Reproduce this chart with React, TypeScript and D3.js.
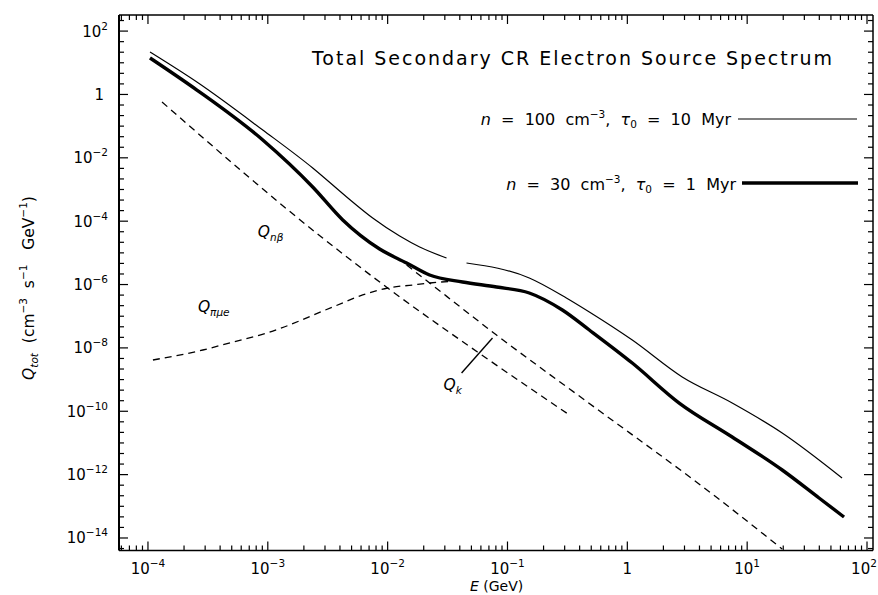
import React from "react";
import * as d3 from "d3";

const W = 878;
const H = 595;

const xDomain: [number, number] = [Math.pow(10, -4.2417), Math.pow(10, 2.05)];
const yDomain: [number, number] = [Math.pow(10, -14.395), Math.pow(10, 2.508)];

// n = 100 cm^-3, tau0 = 10 Myr (thin)
const thinE = [1.04e-4, 2.56e-4, 9.08e-4, 2.37e-3, 4.55e-3, 7.5e-3, 1.26e-2, 1.85e-2, 3.1e-2, 3.8e-2, 4.55e-2, 0.152, 0.31, 0.482, 1.1, 2.87, 7.5, 19.6, 61.9];
const thinQ = [21.9, 2.47, 7.55e-2, 4.77e-3, 5.8e-4, 1.26e-4, 3.4e-5, 1.53e-5, 6.89e-6, NaN, 4.79e-6, 1.61e-6, 3.76e-7, 1.36e-7, 1.77e-8, 1.21e-9, 1.82e-10, 2.06e-11, 7.82e-13];

// n = 30 cm^-3, tau0 = 1 Myr (thick)
const thickE = [1.04e-4, 2.56e-4, 9.08e-4, 2.37e-3, 4.22e-3, 8.57e-3, 1.44e-2, 2.24e-2, 4.22e-2, 8.1e-2, 0.152, 0.287, 0.482, 1.1, 2.71, 7.5, 19.6, 39.8, 64.3];
const thickQ = [14.2, 1.38, 3.65e-2, 1.2e-3, 1.09e-4, 1.32e-5, 4.79e-6, 2.0e-6, 1.2e-6, 8.36e-7, 5.41e-7, 1.57e-7, 3.67e-8, 3.33e-9, 1.82e-10, 1.54e-11, 1.4e-12, 1.83e-13, 4.59e-14];

// Q_n-beta component
const qnbE = [1.31e-4, 2.87e-3, 1.0e-2, 5.62e-2, 0.329];
const qnbQ = [0.578, 2.94e-5, 7.78e-7, 7.41e-9, 7.62e-11];

// Q_pi-mu-e component
const qpiE = [1.1e-4, 2.87e-4, 5.11e-4, 9.82e-4, 3.48e-3, 6.19e-3, 1.0e-2, 1.61e-2, 2.24e-2, 3.76e-2];
const qpiQ = [4.15e-9, 8.59e-9, 1.53e-8, 2.95e-8, 1.95e-7, 4.68e-7, 7.78e-7, 9.66e-7, 1.12e-6, 1.29e-6];

// Q_k component
const qkE = [1.44e-2, 2.24e-2, 8.1e-2, 0.464, 5.52, 19.6];
const qkQ = [4.14e-6, 1.12e-6, 2.55e-8, 1.96e-10, 1.96e-13, 4.49e-15];

// Q_k leader line
const leaderE = [4.14e-2, 7.5e-2];
const leaderQ = [1.61e-9, 2.05e-8];

// tick labels
const xTickExps = [-4, -3, -2, -1, 0, 1, 2];
const yTickExps = [2, 0, -2, -4, -6, -8, -10, -12, -14];

const FONT = "'DejaVu Sans', 'Liberation Sans', Arial, sans-serif";

function sup(e: number) {
  return e < 0 ? "\u2212" + Math.abs(e) : String(e);
}

export default function App() {
  const x = d3.scaleLog().domain(xDomain).range([119, 873]);
  const y = d3.scaleLog().domain(yDomain).range([550.5, 15]);
  const [x0, x1] = x.range();
  const [y0, y1] = y.range();

  const line = d3
    .line<[number, number]>()
    .defined((d) => !isNaN(d[1]))
    .x((d) => x(d[0]))
    .y((d) => y(d[1]))
    .curve(d3.curveMonotoneX);
  const straight = d3
    .line<[number, number]>()
    .x((d) => x(d[0]))
    .y((d) => y(d[1]));

  const zip = (a: number[], b: number[]) => a.map((v, i) => [v, b[i]] as [number, number]);

  // x ticks
  const xTicks: { v: number; major: boolean }[] = [];
  for (let d = -5; d <= 2; d++) {
    for (let m = 1; m <= 9; m++) {
      const v = m * Math.pow(10, d);
      if (v >= xDomain[0] && v <= xDomain[1]) xTicks.push({ v, major: m === 1 });
    }
  }
  // y ticks every third of a decade
  const yTicks: { v: number; major: boolean }[] = [];
  for (let k = -45; k <= 9; k++) {
    const v = Math.pow(10, k / 3);
    if (v >= yDomain[0] && v <= yDomain[1]) yTicks.push({ v, major: k % 6 === 0 });
  }

  const LM = 9;
  const Lm = 5;
  const pre = { whiteSpace: "pre" as const };

  return (
    <svg
      width={W}
      height={H}
      style={{ position: "fixed", left: 0, top: 0, background: "#fff" }}
      fontFamily={FONT}
    >
      <rect x={0} y={0} width={W} height={H} fill="#fff" />
      <defs>
        <clipPath id="plot">
          <rect x={x0} y={y1} width={x1 - x0} height={y0 - y1} />
        </clipPath>
      </defs>

      {/* frame */}
      <line x1={x0} x2={x0} y1={y1} y2={y0} stroke="#000" strokeWidth={2} />
      <line x1={x0} x2={x1} y1={y0} y2={y0} stroke="#000" strokeWidth={1.6} />
      <line x1={x0} x2={x1} y1={y1} y2={y1} stroke="#000" strokeWidth={1.5} />
      <line x1={x1} x2={x1} y1={y1} y2={y0} stroke="#000" strokeWidth={1.5} />

      {/* x ticks */}
      {xTicks.map((t, i) => (
        <g key={"xt" + i} stroke="#000" strokeWidth={1.2}>
          <line x1={x(t.v)} x2={x(t.v)} y1={y0} y2={y0 - (t.major ? LM : Lm)} />
          <line x1={x(t.v)} x2={x(t.v)} y1={y1} y2={y1 + (t.major ? LM : Lm)} />
        </g>
      ))}
      {/* y ticks */}
      {yTicks.map((t, i) => (
        <g key={"yt" + i} stroke="#000" strokeWidth={1.2}>
          <line x1={x0} x2={x0 + (t.major ? LM : Lm)} y1={y(t.v)} y2={y(t.v)} />
          <line x1={x1} x2={x1 - (t.major ? LM : Lm)} y1={y(t.v)} y2={y(t.v)} />
        </g>
      ))}

      {/* x tick labels */}
      {xTickExps.map((e) => (
        <text key={"xl" + e} x={x(Math.pow(10, e)) - (e === 2 ? 3 : 0)} y={574} textAnchor="middle" fontSize={15} fill="#000">
          {e === 0 ? (
            "1"
          ) : (
            <>
              10
              <tspan dy={-7} fontSize={10.5}>
                {sup(e)}
              </tspan>
            </>
          )}
        </text>
      ))}
      {/* y tick labels */}
      {yTickExps.map((e) => (
        <text key={"yl" + e} x={e === 0 ? 104 : 108} y={y(Math.pow(10, e)) + 5.5} textAnchor="end" fontSize={15} fill="#000">
          {e === 0 ? (
            "1"
          ) : (
            <>
              10
              <tspan dy={-7} fontSize={10.5}>
                {sup(e)}
              </tspan>
            </>
          )}
        </text>
      ))}

      {/* axis titles */}
      <text x={470} y={591} fontSize={14} fill="#000" style={pre}>
        <tspan fontStyle="italic">E</tspan>
        {" (GeV)"}
      </text>
      <text transform="translate(34,288) rotate(-90)" textAnchor="middle" fontSize={15.5} fill="#000" style={pre}>
        <tspan fontStyle="italic">Q</tspan>
        <tspan dy={4} fontSize={10.5} fontStyle="italic">tot</tspan>
        <tspan dy={-4}>{"  (cm"}</tspan>
        <tspan dy={-7} fontSize={10.5}>{"\u22123"}</tspan>
        <tspan dy={7}>{"  s"}</tspan>
        <tspan dy={-7} fontSize={10.5}>{"\u22121"}</tspan>
        <tspan dy={7}>{"   GeV"}</tspan>
        <tspan dy={-7} fontSize={10.5}>{"\u22121"}</tspan>
        <tspan dy={7}>{")"}</tspan>
      </text>

      {/* curves */}
      <g clipPath="url(#plot)" fill="none" stroke="#000">
        <path d={line(zip(qnbE, qnbQ)) || ""} strokeWidth={1.3} strokeDasharray="7,5" />
        <path d={line(zip(qpiE, qpiQ)) || ""} strokeWidth={1.3} strokeDasharray="7,5" />
        <path d={line(zip(qkE, qkQ)) || ""} strokeWidth={1.3} strokeDasharray="7,5" />
        <path d={line(zip(thinE, thinQ)) || ""} strokeWidth={1.2} />
        <path d={line(zip(thickE, thickQ)) || ""} strokeWidth={3.4} />
        <path d={straight(zip(leaderE, leaderQ)) || ""} strokeWidth={1.4} />
      </g>

      {/* component labels */}
      <text x={x(8.25e-4)} y={y(3.16e-5)} fontSize={15.5} fontStyle="italic" fill="#000">
        Q<tspan dy={4} fontSize={10.5}>{"n\u03B2"}</tspan>
      </text>
      <text x={x(2.61e-4)} y={y(1.36e-7)} fontSize={15.5} fontStyle="italic" fill="#000">
        Q<tspan dy={4} fontSize={10.5}>{"\u03C0\u03BCe"}</tspan>
      </text>
      <text x={x(2.93e-2)} y={y(4.68e-10)} fontSize={15.5} fontStyle="italic" fill="#000">
        Q<tspan dy={4} fontSize={10.5}>k</tspan>
      </text>

      {/* title */}
      <text x={312} y={65} fontSize={19} textLength={520} lengthAdjust="spacing" fill="#000">
        Total Secondary CR Electron Source Spectrum
      </text>

      {/* legend */}
      <text x={731} y={125} textAnchor="end" fontSize={16} fill="#000" style={pre}>
        <tspan fontStyle="italic">n</tspan>
        {"  =  100  cm"}
        <tspan dy={-7} fontSize={10.5}>{"\u22123"}</tspan>
        <tspan dy={7}>{",  "}</tspan>
        <tspan fontStyle="italic">{"\u03C4"}</tspan>
        <tspan dy={3} fontSize={10.5}>0</tspan>
        <tspan dy={-3}>{"  =  10  Myr"}</tspan>
      </text>
      <line x1={738} x2={857} y1={119} y2={119} stroke="#000" strokeWidth={1.2} />
      <text x={736} y={190} textAnchor="end" fontSize={16} fill="#000" style={pre}>
        <tspan fontStyle="italic">n</tspan>
        {"  =  30  cm"}
        <tspan dy={-7} fontSize={10.5}>{"\u22123"}</tspan>
        <tspan dy={7}>{",  "}</tspan>
        <tspan fontStyle="italic">{"\u03C4"}</tspan>
        <tspan dy={3} fontSize={10.5}>0</tspan>
        <tspan dy={-3}>{"  =  1  Myr"}</tspan>
      </text>
      <line x1={742} x2={858} y1={183} y2={183} stroke="#000" strokeWidth={3.4} />
    </svg>
  );
}
